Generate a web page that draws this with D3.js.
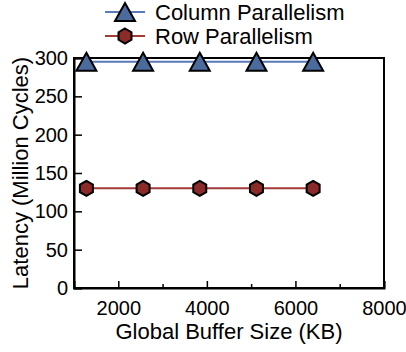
<!DOCTYPE html>
<html>
<head>
<meta charset="utf-8">
<script src="https://cdn.jsdelivr.net/npm/d3@7"></script>
<style>
  body { margin: 0; background: #fff; }
  text { font-family: "Liberation Sans", Arial, sans-serif; fill: #000; }
</style>
</head>
<body>
<div id="chart"></div>
<script>
// data
var bufferSizes = [1280, 2560, 3840, 5120, 6400];
var columnLatency = [295, 295, 295, 295, 295];
var rowLatency = [130, 130, 130, 130, 130];
var seriesNames = ["Column Parallelism", "Row Parallelism"];
var xTicks = [2000, 4000, 6000, 8000];
var xMinorTicks = [3000, 5000, 7000];
var yTicks = [0, 50, 100, 150, 200, 250, 300];

var svgWidth = 406;
var svgHeight = 352;
var margin = { top: 58, right: 22, bottom: 64, left: 74 };
var width = svgWidth - margin.left - margin.right;
var height = svgHeight - margin.top - margin.bottom;

var svg = d3.select("#chart")
  .append("svg")
  .attr("width", svgWidth)
  .attr("height", svgHeight);

var chartGroup = svg.append("g")
  .attr("transform", `translate(${margin.left}, ${margin.top})`);

var x = d3.scaleLinear().domain([1000, 8000]).range([0, width]);
var y = d3.scaleLinear().domain([0, 300]).range([height, 0]);

// frame
chartGroup.append("rect")
  .attr("width", width)
  .attr("height", height)
  .attr("fill", "none")
  .attr("stroke", "#000")
  .attr("stroke-width", 2);

// axes with inward ticks
var xAxis = chartGroup.append("g")
  .attr("transform", `translate(0, ${height})`)
  .call(d3.axisBottom(x).tickValues(xTicks).tickSize(-7).tickPadding(13).tickFormat(d3.format("d")));
chartGroup.append("g")
  .attr("transform", `translate(0, ${height})`)
  .call(d3.axisBottom(x).tickValues(xMinorTicks).tickSize(-4).tickFormat(""))
  .call(g => g.select(".domain").remove())
  .selectAll("line").attr("stroke-width", 1.5);

var yAxis = chartGroup.append("g")
  .call(d3.axisLeft(y).tickValues(yTicks).tickSize(-8).tickPadding(6));

[xAxis, yAxis].forEach(function(g) {
  g.select(".domain").attr("stroke-width", 2);
  g.selectAll(".tick line").attr("stroke-width", 1.5);
  g.selectAll(".tick text").attr("font-size", 20).attr("font-family", "Liberation Sans, Arial, sans-serif");
});

// series
var line = d3.line()
  .x((d, i) => x(bufferSizes[i]))
  .y(d => y(d));

var triangle = "M0,-9L10,9L-10,9Z";
var hexagon = d3.range(6).map(function(k) {
  var a = Math.PI / 3 * k - Math.PI / 2;
  return [7.5 * Math.cos(a), 7.5 * Math.sin(a)];
});
var hexPath = "M" + hexagon.map(p => p.join(",")).join("L") + "Z";

var series = [
  { values: columnLatency, lineColor: "#5a7ab6", fill: "#4b6a9e", marker: triangle },
  { values: rowLatency, lineColor: "#a33a3a", fill: "#8c2a2a", marker: hexPath }
];

series.forEach(function(s) {
  chartGroup.append("path")
    .datum(s.values)
    .attr("d", line)
    .attr("fill", "none")
    .attr("stroke", s.lineColor)
    .attr("stroke-width", 2);

  chartGroup.selectAll(null)
    .data(s.values)
    .enter()
    .append("path")
    .attr("d", s.marker)
    .attr("transform", (d, i) => `translate(${x(bufferSizes[i])}, ${y(d)})`)
    .attr("fill", s.fill)
    .attr("stroke", "#000")
    .attr("stroke-width", 2);
});

// legend
var legend = svg.append("g");
series.forEach(function(s, i) {
  var ly = 12 + i * 24;
  legend.append("line")
    .attr("x1", 105).attr("x2", 145)
    .attr("y1", ly).attr("y2", ly)
    .attr("stroke", s.lineColor)
    .attr("stroke-width", 2);
  legend.append("path")
    .attr("d", s.marker)
    .attr("transform", `translate(125, ${ly})`)
    .attr("fill", s.fill)
    .attr("stroke", "#000")
    .attr("stroke-width", 2);
  legend.append("text")
    .attr("x", 155)
    .attr("y", ly)
    .attr("dy", "0.36em")
    .attr("font-size", 22)
    .text(seriesNames[i]);
});

// axis labels
svg.append("text")
  .attr("x", margin.left + width / 2)
  .attr("y", 339)
  .attr("text-anchor", "middle")
  .attr("font-size", 22)
  .text("Global Buffer Size (KB)");

svg.append("text")
  .attr("transform", `translate(28, ${margin.top + height / 2}) rotate(-90)`)
  .attr("text-anchor", "middle")
  .attr("font-size", 22)
  .text("Latency (Million Cycles)");
</script>
</body>
</html>
